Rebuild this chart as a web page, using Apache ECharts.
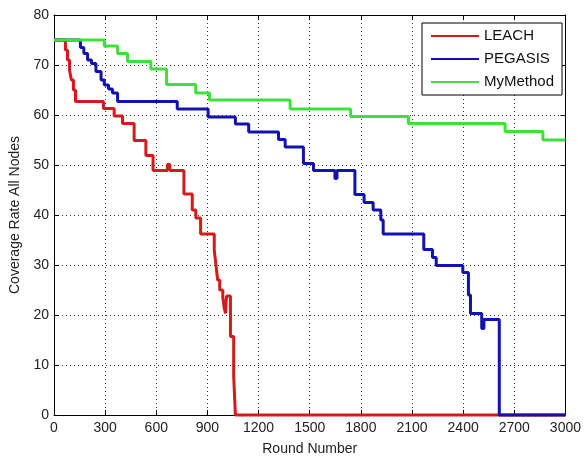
<!DOCTYPE html>
<html>
<head>
<meta charset="utf-8">
<script src="https://cdn.jsdelivr.net/npm/echarts@6/dist/echarts.min.js"></script>
<style>html,body{margin:0;padding:0;background:#fff}#c{width:584px;height:461px}</style>
</head>
<body>
<div id="c"></div>
<script>
// Step-change points: [round where the new value starts, coverage]
var leach = [[0,75],[67,73],[79,71],[91,69],[102,67],[114,65],[126,62.7],[290,61.3],[353,59.8],[402,58.3],[470,54.9],[539,51.9],[581,48.9],[665,50.1],[680,48.9],[762,44.2],[811,41],[832,39.4],[860,36.2],[940,33],[950,30],[960,27],[972,25],[990,23.6],[998,21.5],[1006,20.3],[1012,23.8],[1035,15.7],[1054,7.8],[1064,0],[3000,0]];
var pegasis = [[0,75],[155,73.5],[175,72.3],[197,71],[220,70.3],[246,68.7],[276,67],[295,66],[320,65.2],[343,64.4],[373,62.7],[723,61.2],[904,59.6],[1064,58.2],[1142,56.6],[1317,55.1],[1356,53.6],[1463,50.3],[1522,48.9],[1648,47.3],[1660,48.9],[1765,44.1],[1819,42.5],[1872,41],[1917,39],[1931,36.2],[2169,33.1],[2220,31.5],[2242,29.9],[2398,28.5],[2431,24],[2443,20.3],[2509,17.3],[2522,19.1],[2612,0],[3000,0]];
var mymethod = [[0,75],[295,73.8],[373,72.3],[431,70.7],[568,69.2],[660,66.1],[831,64.4],[912,63],[1385,61.2],[1740,59.7],[2079,58.3],[2646,56.7],[2868,55],[3000,55]];
var seriesNames = ['LEACH','PEGASIS','MyMethod'];
var xMin = 0, xMax = 3000, xStep = 300;
var yMin = 0, yMax = 80, yStep = 10;

var colors = ['#d41a1a', '#1212b0', '#3ee03e'];
var chart = echarts.init(document.getElementById('c'));
var font = 'Liberation Sans, Arial, sans-serif';
var tickCfg = {show: true, inside: true, length: 5, lineStyle: {color: '#000'}};
var lineCfg = {show: true, onZero: false, lineStyle: {color: '#000', width: 1}};
var split = {show: true, lineStyle: {color: '#333', type: [1, 3], width: 1}};
function plain(v) { return String(v); }
function mk(name, data, i) {
  return {name: name, type: 'line', step: 'end', data: data, symbol: 'none',
    showSymbol: false, clip: false, color: colors[i],
    lineStyle: {width: 3, color: colors[i]}, animation: false};
}
chart.setOption({
  animation: false,
  backgroundColor: '#fff',
  grid: {left: 54, right: 16, top: 15, bottom: 42, containLabel: false},
  legend: {
    data: seriesNames, orient: 'vertical', left: 422, top: 23,
    icon: 'rect', itemWidth: 48, itemHeight: 2, itemGap: 7,
    padding: [5, 8, 5, 9],
    backgroundColor: '#fff', borderColor: '#000', borderWidth: 1, borderRadius: 0,
    textStyle: {fontFamily: font, fontSize: 15, color: '#111', lineHeight: 16}
  },
  xAxis: [{
    type: 'value', min: xMin, max: xMax, interval: xStep,
    name: 'Round Number', nameLocation: 'middle', nameGap: 27,
    nameTextStyle: {fontFamily: font, fontSize: 14, color: '#222'},
    axisLine: lineCfg, axisTick: tickCfg, splitLine: split,
    axisLabel: {fontFamily: font, fontSize: 14, color: '#222', margin: 6, formatter: plain}
  }, {
    type: 'value', min: xMin, max: xMax, interval: xStep, position: 'top',
    axisLine: lineCfg, axisTick: tickCfg, splitLine: {show: false}, axisLabel: {show: false}
  }],
  yAxis: [{
    type: 'value', min: yMin, max: yMax, interval: yStep,
    name: 'Coverage Rate All Nodes', nameLocation: 'middle', nameGap: 27,
    nameTextStyle: {fontFamily: font, fontSize: 14, color: '#222'},
    axisLine: lineCfg, axisTick: tickCfg, splitLine: split,
    axisLabel: {fontFamily: font, fontSize: 14, color: '#222', margin: 5, formatter: plain}
  }, {
    type: 'value', min: yMin, max: yMax, interval: yStep, position: 'right',
    axisLine: lineCfg, axisTick: tickCfg, splitLine: {show: false}, axisLabel: {show: false}
  }],
  series: [mk(seriesNames[0], leach, 0), mk(seriesNames[1], pegasis, 1), mk(seriesNames[2], mymethod, 2)]
});
</script>
</body>
</html>
